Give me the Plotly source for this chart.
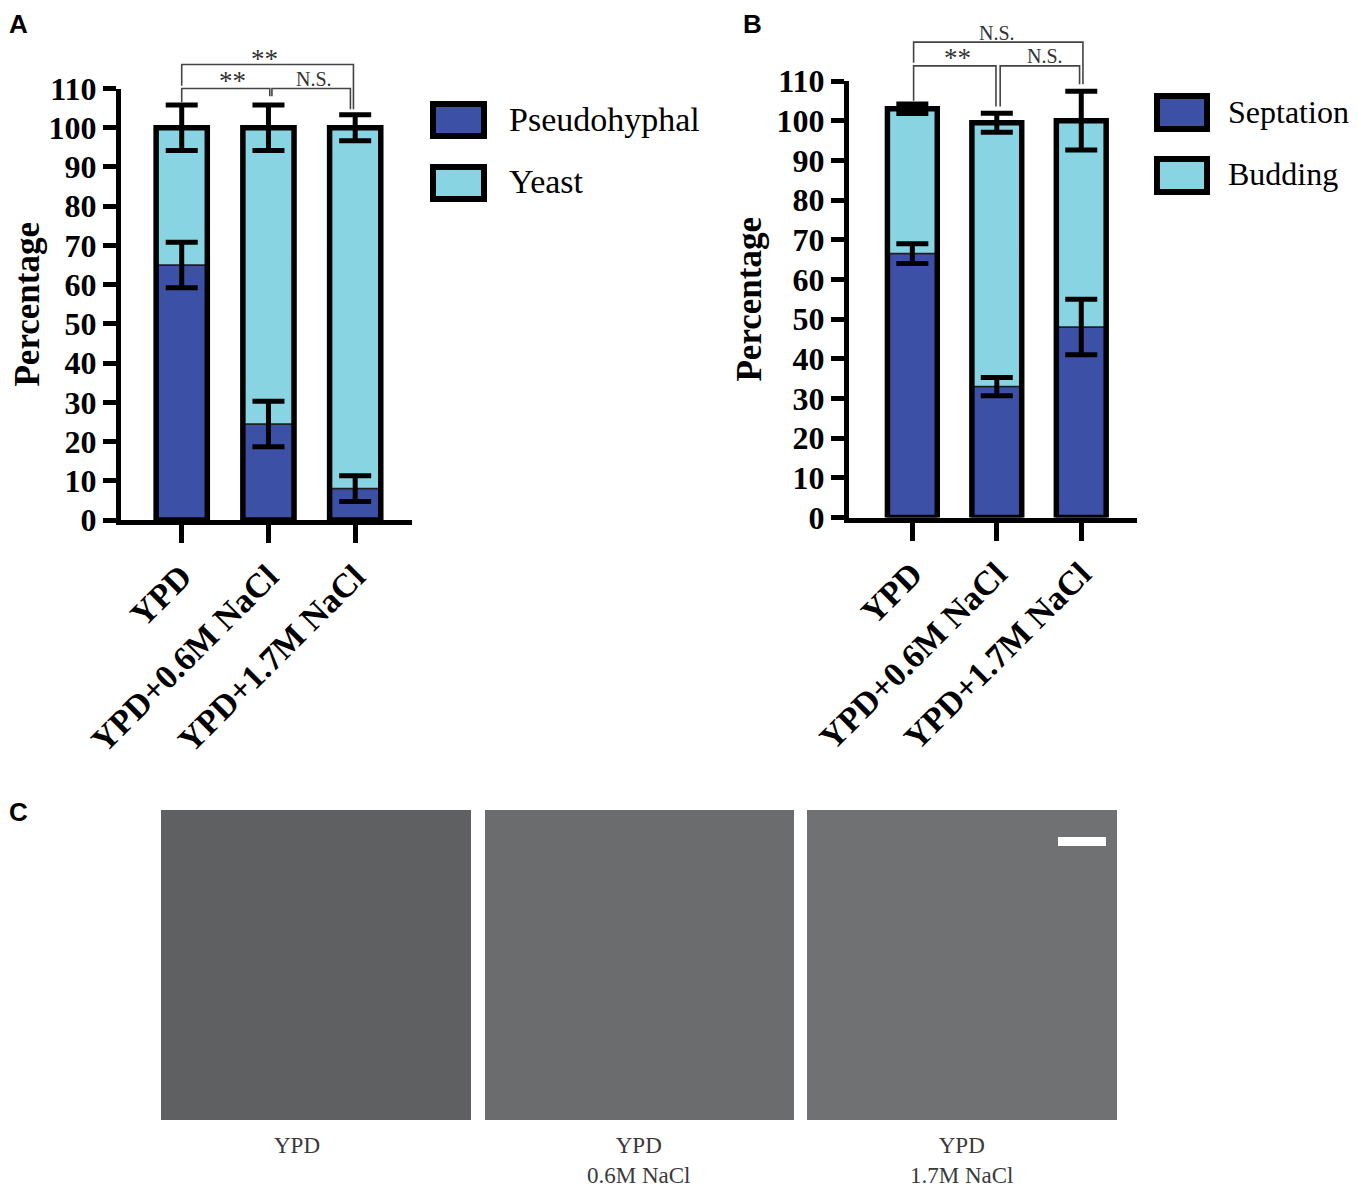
import plotly.graph_objects as go

# page window size and the browser's default body margin (the figure starts 8px in)
W, H = 1358, 1187
OX, OY = 8, 8
FW, FH = W - OX, H - OY

# ---------------- data ----------------
categories = ["YPD", "YPD+0.6M NaCl", "YPD+1.7M NaCl"]
y_ticks = [0, 10, 20, 30, 40, 50, 60, 70, 80, 90, 100, 110]

a_pseudohyphal = [65, 24.5, 8]
a_pseudohyphal_err = [5.8, 5.8, 3.3]
a_yeast = [35, 75.5, 92]
a_yeast_err = [5.8, 5.8, 3.3]

b_septation = [66.5, 33, 48]
b_septation_err = [2.5, 2.3, 7.0]
b_budding = [36.5, 66.5, 52]
b_budding_err = [1.2, 2.4, 7.4]

# significance brackets: x0, x1, y, left end, right end, label, label x, label y
a_sig = [
    (0.0, 1.015, 110, 106.5, 108.0, "**", 0.58, 111.9),
    (1.04, 1.945, 110, 108.0, 104.7, "N.S.", 1.52, 112.4),
    (0.0, 1.98, 116.1, 110.7, 104.7, "**", 0.95, 117.6),
]
b_sig = [
    (0.015, 0.99, 113.8, 105.0, 103.6, "**", 0.53, 115.7),
    (1.04, 1.98, 113.8, 103.6, 109.2, "N.S.", 1.575, 116.3),
    (0.015, 2.02, 119.8, 114.6, 109.2, "N.S.", 1.005, 122.0),
]

BLUE = "#3c50a6"
CYAN = "#88d4e3"
SERIF = "Liberation Serif"
SANS = "Liberation Sans"

positions = [0, 1, 2]

# panel geometry (window pixels)
panels = {
    "A": dict(xl=121, xr=412, yb=520, yt=88.5, xrange=(-0.70, 2.655), xa="x", ya="y", standoff=24),
    "B": dict(xl=849, xr=1137, yb=517.5, yt=81, xrange=(-0.75, 2.66), xa="x2", ya="y2", standoff=6),
}


def px(x):
    return (x - OX) / FW


def py(y):
    return 1 - (y - OY) / FH


def to_paper(p, xv, yv):
    g = panels[p]
    x0, x1 = g["xrange"]
    fx = (xv - x0) / (x1 - x0)
    fy = yv / 110.0
    xp = g["xl"] + fx * (g["xr"] - g["xl"])
    yp = g["yb"] - fy * (g["yb"] - g["yt"])
    return px(xp), py(yp)


fig = go.Figure()


def add_panel(p, lower, lower_err, upper, upper_err):
    g = panels[p]
    totals = [a + b for a, b in zip(lower, upper)]
    common = dict(xaxis=g["xa"], yaxis=g["ya"], width=0.59, hoverinfo="skip")
    fig.add_trace(go.Bar(x=positions, y=lower, base=[0, 0, 0],
                         marker=dict(color=BLUE, line=dict(width=1.5, color="#1e1e1e")), **common))
    fig.add_trace(go.Bar(x=positions, y=upper, base=lower,
                         marker=dict(color=CYAN, line=dict(width=1.5, color="#1e1e1e")), **common))
    fig.add_trace(go.Bar(x=positions, y=totals, base=[0, 0, 0],
                         marker=dict(color="rgba(0,0,0,0)", line=dict(width=5.5, color="black")), **common))
    for yv, ev in ((lower, lower_err), (totals, upper_err)):
        fig.add_trace(go.Scatter(
            x=positions, y=yv, mode="markers", xaxis=g["xa"], yaxis=g["ya"],
            marker=dict(size=2, color="rgba(0,0,0,0)"), cliponaxis=False, hoverinfo="skip",
            error_y=dict(type="data", array=ev, visible=True, color="black", thickness=5, width=16)))


add_panel("A", a_pseudohyphal, a_pseudohyphal_err, a_yeast, a_yeast_err)
add_panel("B", b_septation, b_septation_err, b_budding, b_budding_err)

shapes = []
annotations = []


def add_brackets(p, sig):
    for x0, x1, y, yl, yr, label, lx, ly in sig:
        pts = [to_paper(p, x0, yl), to_paper(p, x0, y), to_paper(p, x1, y), to_paper(p, x1, yr)]
        path = "M " + " L ".join(f"{a:.6f},{b:.6f}" for a, b in pts)
        shapes.append(dict(type="path", xref="paper", yref="paper", path=path,
                           line=dict(color="#444444", width=1.6)))
        tx, ty = to_paper(p, lx, ly)
        big = label == "**"
        annotations.append(dict(x=tx, y=ty, xref="paper", yref="paper", text=label, showarrow=False,
                                xanchor="center", yanchor="middle",
                                font=dict(family=SERIF, size=27 if big else 20, color="#333333")))


add_brackets("A", a_sig)
add_brackets("B", b_sig)

# custom legends
legends = [
    ("Pseudohyphal", BLUE, 433, 104, 484, 136, 507, 120, 34),
    ("Yeast", CYAN, 433, 167, 484, 199, 507, 182, 34),
    ("Septation", BLUE, 1157, 96, 1207, 129, 1226, 112, 32),
    ("Budding", CYAN, 1157, 159, 1207, 192, 1226, 174, 32),
]
for name, col, x0, y0, x1, y1, tx, ty, fs in legends:
    shapes.append(dict(type="rect", xref="paper", yref="paper", x0=px(x0), x1=px(x1), y0=py(y1), y1=py(y0),
                       fillcolor=col, line=dict(color="black", width=6)))
    annotations.append(dict(x=px(tx), y=py(ty), xref="paper", yref="paper", text=name, showarrow=False,
                            xanchor="left", yanchor="middle",
                            font=dict(family=SERIF, size=fs, color="black")))

# panel letters (kept inside the figure's top-left edge)
for letter, x, y in (("A", 8, 8), ("B", 742, 8), ("C", 8, 796)):
    annotations.append(dict(x=px(x), y=py(y), xref="paper", yref="paper", text=letter, showarrow=False,
                            xanchor="left", yanchor="top", borderpad=0,
                            font=dict(family=SANS, size=26, color="black", weight="bold")))

# panel C: micrograph placeholders
images = [
    (161, 810, 471, 1120, "#5e6062", "YPD", 297),
    (485, 810, 794, 1120, "#6b6c6d", "YPD<br>0.6M NaCl", 639),
    (807, 810, 1117, 1120, "#707172", "YPD<br>1.7M NaCl", 962),
]
for x0, y0, x1, y1, col, label, lx in images:
    shapes.append(dict(type="rect", xref="paper", yref="paper", x0=px(x0), x1=px(x1), y0=py(y1), y1=py(y0),
                       fillcolor=col, line=dict(width=0)))
    annotations.append(dict(x=px(lx), y=py(1131), xref="paper", yref="paper", text=label, showarrow=False,
                            xanchor="center", yanchor="top", align="center",
                            font=dict(family=SERIF, size=23, color="#3a3a3a")))
# scale bar
shapes.append(dict(type="rect", xref="paper", yref="paper", x0=px(1058), x1=px(1106), y0=py(846), y1=py(837),
                   fillcolor="white", line=dict(width=0)))

xtickfont = dict(family=SERIF, size=34, color="black", weight="bold")
ytickfont = dict(family=SERIF, size=32, color="black", weight="bold")
titlefont = dict(family=SERIF, size=35, color="black", weight="bold")


def xaxis_cfg(p):
    g = panels[p]
    return dict(domain=[px(g["xl"]), px(g["xr"])], range=list(g["xrange"]), tickvals=positions,
                ticktext=categories, tickangle=-45, tickfont=xtickfont, showline=True, linewidth=5,
                linecolor="black", ticks="outside", ticklen=18, tickwidth=5, tickcolor="black",
                showgrid=False, zeroline=False, anchor=g["ya"], fixedrange=True, automargin=False)


def yaxis_cfg(p):
    g = panels[p]
    return dict(domain=[py(g["yb"]), py(g["yt"])], range=[0, 110], tickvals=y_ticks, tickfont=ytickfont,
                showline=True, linewidth=5, linecolor="black", ticks="outside", ticklen=13, tickwidth=5,
                tickcolor="black", showgrid=False, zeroline=False, anchor=g["xa"], automargin=False,
                title=dict(text="Percentage", font=titlefont, standoff=g["standoff"]), fixedrange=True)


fig.update_layout(
    template="none",
    width=FW, height=FH, margin=dict(l=0, r=0, t=0, b=0, autoexpand=False), autosize=False,
    paper_bgcolor="white", plot_bgcolor="white", showlegend=False, barmode="overlay",
    xaxis=xaxis_cfg("A"), yaxis=yaxis_cfg("A"),
    xaxis2=xaxis_cfg("B"), yaxis2=yaxis_cfg("B"),
    shapes=shapes, annotations=annotations,
)

fig.write_html("out.html")
